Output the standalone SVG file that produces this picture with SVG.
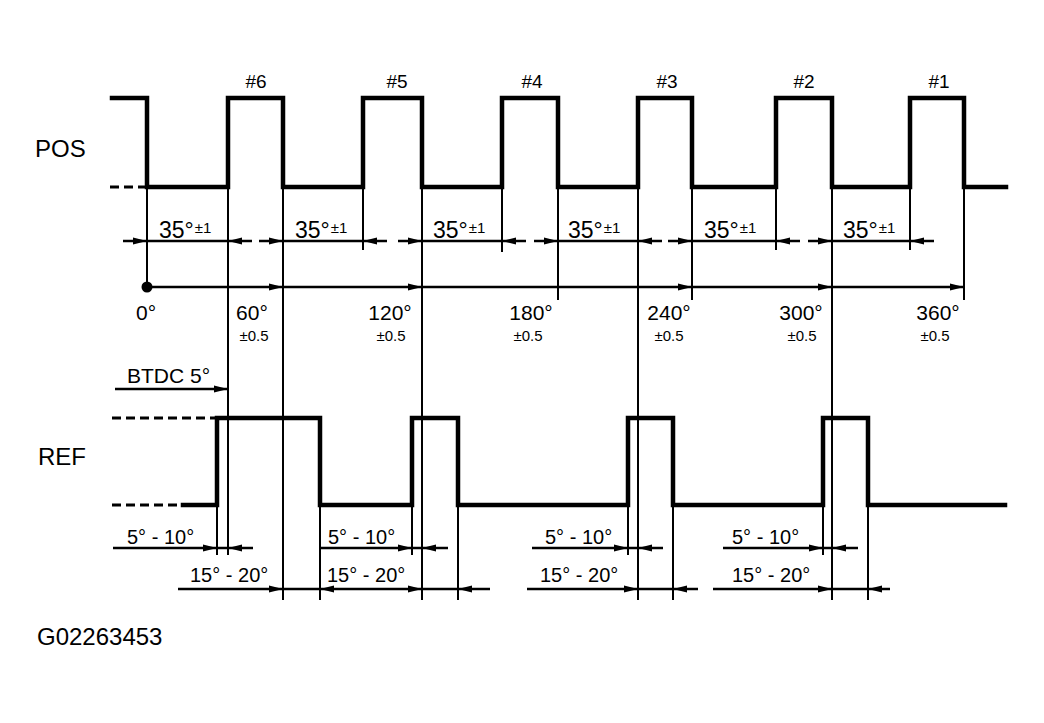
<svg xmlns="http://www.w3.org/2000/svg" width="1044" height="723" viewBox="0 0 1044 723">
<style>
text{font-family:"Liberation Sans",Arial,sans-serif;fill:#000}
.wave{fill:none;stroke:#000;stroke-width:4.5;stroke-linejoin:miter;stroke-linecap:square}
.dash{fill:none;stroke:#000;stroke-width:3;stroke-dasharray:9 5}
.thin{fill:none;stroke:#000;stroke-width:2}
.dim{fill:none;stroke:#000;stroke-width:2.5}
.arr{marker-end:url(#ah)}
.arr2{marker-start:url(#ah);marker-end:url(#ah)}
.big{font-size:24px}
.deg{font-size:21px;text-anchor:middle}
.tol{font-size:15px;text-anchor:middle}
.num{font-size:19px;text-anchor:middle}
.rng{font-size:20px}
.ang{font-size:23px}
.pm{font-size:15px}
</style>
<defs>
<marker id="ah" markerUnits="userSpaceOnUse" markerWidth="15" markerHeight="9" refX="14" refY="4.5" orient="auto-start-reverse">
<path d="M0,1 L14,4.5 L0,8 z" fill="#000"/>
</marker>
</defs>
<rect width="1044" height="723" fill="#fff"/>

<g id="pos-signal">
<path class="dash" d="M110,187 H145"/>
<path class="wave" d="M112,98 H147 V187 H228 V98 H283 V187 H363 V98 H422 V187 H502 V98 H558 V187 H638 V98 H692 V187 H776 V98 H832 V187 H910 V98 H964 V187 H1006"/>
<text class="big" x="35" y="157">POS</text>
<text class="num" x="256" y="88">#6</text>
<text class="num" x="397" y="88">#5</text>
<text class="num" x="532" y="88">#4</text>
<text class="num" x="667" y="88">#3</text>
<text class="num" x="804" y="88">#2</text>
<text class="num" x="939" y="88">#1</text>
</g>

<g id="ref-signal">
<path class="dash" d="M112,418 H215 M112,505 H181"/>
<path class="wave" d="M183,505 H217 V418 H320 V505 H412 V418 H458 V505 H628 V418 H673 V505 H823 V418 H868 V505 H1005"/>
<text class="big" x="38" y="465">REF</text>
</g>

<g id="connectors">
<path class="thin" d="M147,187 V287 M228,187 V555 M283,187 V600 M363,187 V250 M422,187 V600 M502,187 V252 M558,187 V300 M638,187 V600 M692,187 V300 M776,187 V250 M832,187 V600 M910,187 V250 M964,187 V300"/>
<path class="thin" d="M217,505 V555 M320,505 V600 M412,505 V555 M458,505 V600 M628,505 V555 M673,505 V600 M823,505 V555 M868,505 V600"/>

<g id="dim-35">
<line class="dim arr" x1="123" y1="241" x2="147" y2="241"/><line class="dim" x1="147" y1="241" x2="228" y2="241"/><line class="dim arr" x1="252" y1="241" x2="228" y2="241"/>
<line class="dim arr" x1="259" y1="241" x2="283" y2="241"/><line class="dim" x1="283" y1="241" x2="363" y2="241"/><line class="dim arr" x1="387" y1="241" x2="363" y2="241"/>
<line class="dim arr" x1="398" y1="241" x2="422" y2="241"/><line class="dim" x1="422" y1="241" x2="502" y2="241"/><line class="dim arr" x1="526" y1="241" x2="502" y2="241"/>
<line class="dim arr" x1="534" y1="241" x2="558" y2="241"/><line class="dim" x1="558" y1="241" x2="638" y2="241"/><line class="dim arr" x1="662" y1="241" x2="638" y2="241"/>
<line class="dim arr" x1="668" y1="241" x2="692" y2="241"/><line class="dim" x1="692" y1="241" x2="776" y2="241"/><line class="dim arr" x1="800" y1="241" x2="776" y2="241"/>
<line class="dim arr" x1="808" y1="241" x2="832" y2="241"/><line class="dim" x1="832" y1="241" x2="910" y2="241"/><line class="dim arr" x1="934" y1="241" x2="910" y2="241"/>
</g>

<g id="dim-360">
<circle cx="147" cy="287" r="5.5" fill="#000"/>
<line class="dim arr" x1="147" y1="287" x2="283" y2="287"/>
<line class="dim arr" x1="283" y1="287" x2="422" y2="287"/>
<line class="dim arr" x1="422" y1="287" x2="692" y2="287"/>
<line class="dim arr" x1="692" y1="287" x2="832" y2="287"/>
<line class="dim arr" x1="832" y1="287" x2="964" y2="287"/>
</g>

<line class="dim arr" x1="115" y1="389" x2="228" y2="389"/>

<g id="dim-5-10">
<line class="dim arr" x1="113" y1="548" x2="217" y2="548"/><line class="dim" x1="217" y1="548" x2="228" y2="548"/><line class="dim arr" x1="253" y1="548" x2="228" y2="548"/>
<line class="dim arr" x1="320" y1="548" x2="412" y2="548"/><line class="dim" x1="412" y1="548" x2="422" y2="548"/><line class="dim arr" x1="448" y1="548" x2="422" y2="548"/>
<line class="dim arr" x1="532" y1="548" x2="628" y2="548"/><line class="dim" x1="628" y1="548" x2="638" y2="548"/><line class="dim arr" x1="663" y1="548" x2="638" y2="548"/>
<line class="dim arr" x1="723" y1="548" x2="823" y2="548"/><line class="dim" x1="823" y1="548" x2="832" y2="548"/><line class="dim arr" x1="858" y1="548" x2="832" y2="548"/>
</g>

<g id="dim-15-20">
<line class="dim arr" x1="178" y1="589" x2="283" y2="589"/><line class="dim" x1="283" y1="589" x2="320" y2="589"/><line class="dim arr2" x1="320" y1="589" x2="422" y2="589"/><line class="dim" x1="422" y1="589" x2="458" y2="589"/><line class="dim arr" x1="490" y1="589" x2="458" y2="589"/>
<line class="dim arr" x1="527" y1="589" x2="638" y2="589"/><line class="dim" x1="638" y1="589" x2="673" y2="589"/><line class="dim arr" x1="698" y1="589" x2="673" y2="589"/>
<line class="dim arr" x1="713" y1="589" x2="832" y2="589"/><line class="dim" x1="832" y1="589" x2="868" y2="589"/><line class="dim arr" x1="890" y1="589" x2="868" y2="589"/>
</g>
</g>

<g id="labels">
<text class="ang" x="159" y="238">35°<tspan class="pm" dx="1" dy="-5">±1</tspan></text>
<text class="ang" x="295" y="238">35°<tspan class="pm" dx="1" dy="-5">±1</tspan></text>
<text class="ang" x="433" y="238">35°<tspan class="pm" dx="1" dy="-5">±1</tspan></text>
<text class="ang" x="568" y="238">35°<tspan class="pm" dx="1" dy="-5">±1</tspan></text>
<text class="ang" x="704" y="238">35°<tspan class="pm" dx="1" dy="-5">±1</tspan></text>
<text class="ang" x="843" y="238">35°<tspan class="pm" dx="1" dy="-5">±1</tspan></text>

<text class="deg" x="146" y="320">0°</text>
<text class="deg" x="252" y="320">60°</text>
<text class="tol" x="254" y="341">±0.5</text>
<text class="deg" x="390" y="320">120°</text>
<text class="tol" x="391" y="341">±0.5</text>
<text class="deg" x="531" y="320">180°</text>
<text class="tol" x="528" y="341">±0.5</text>
<text class="deg" x="669" y="320">240°</text>
<text class="tol" x="669" y="341">±0.5</text>
<text class="deg" x="801" y="320">300°</text>
<text class="tol" x="802" y="341">±0.5</text>
<text class="deg" x="938" y="320">360°</text>
<text class="tol" x="935" y="341">±0.5</text>

<text style="font-size:21px" x="127" y="383">BTDC 5°</text>

<text class="rng" x="127" y="544">5° - 10°</text>
<text class="rng" x="328" y="544">5° - 10°</text>
<text class="rng" x="545" y="544">5° - 10°</text>
<text class="rng" x="732" y="544">5° - 10°</text>

<text class="rng" x="190" y="582">15° - 20°</text>
<text class="rng" x="327" y="582">15° - 20°</text>
<text class="rng" x="540" y="582">15° - 20°</text>
<text class="rng" x="732" y="582">15° - 20°</text>

<text class="big" x="37" y="645">G02263453</text>
</g>
</svg>
